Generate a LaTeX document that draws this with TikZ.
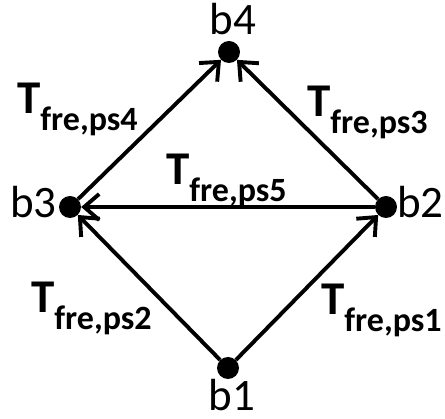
\documentclass[tikz,border=0pt]{standalone}
\usepackage{fontspec}
\setmainfont{Carlito}
\usetikzlibrary{arrows.meta}
\newcommand{\tlab}[1]{{\fontsize{47}{47}\selectfont\bfseries T}\lower 17pt\hbox{\fontsize{34}{34}\selectfont\bfseries #1}}
\begin{document}
\begin{tikzpicture}[x=1pt,y=-1pt,
  vtx/.style={circle,fill=black,inner sep=0pt,minimum size=22pt},
  vlab/.style={font=\fontsize{45}{45}\selectfont,inner sep=0pt},
  tl/.style={inner sep=0pt,anchor=base west},
  edge/.style={line width=3.9pt,-{Straight Barb[length=15pt,width=26pt,line width=3.9pt]}}]
\useasboundingbox (0,0) rectangle (445,419);
\node[vtx] (b4) at (229,52) {};
\node[vtx] (b3) at (70,207) {};
\node[vtx] (b2) at (386,207) {};
\node[vtx] (b1) at (228,368) {};
\node[vlab,anchor=base] (lb4) at (233,35) {b4};
\node[vlab,anchor=base east] (lb3) at (57,218) {b3};
\node[vlab,anchor=base west] (lb2) at (397,218) {b2};
\node[vlab,anchor=base] (lb1) at (232,411) {b1};
\draw[edge] (b1) -- (b2);
\draw[edge] (b1) -- (b3);
\draw[edge] (b2) -- (b3);
\draw[edge] (b2) -- (b4);
\draw[edge] (b3) -- (b4);
\node[tl] (t4) at (17,114) {\tlab{fre,ps4}};
\node[tl] (t3) at (307,117) {\tlab{fre,ps3}};
\node[tl] (t5) at (166,185) {\tlab{fre,ps5}};
\node[tl] (t2) at (31,313) {\tlab{fre,ps2}};
\node[tl] (t1) at (321,315) {\tlab{fre,ps1}};
\end{tikzpicture}
\end{document}
